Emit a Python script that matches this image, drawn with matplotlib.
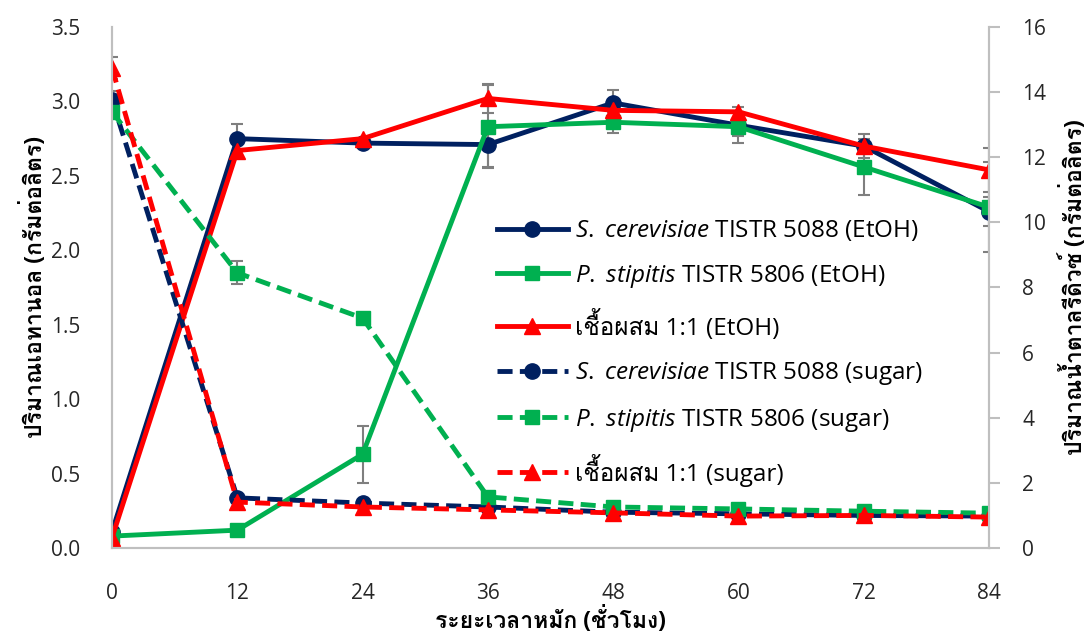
import numpy as np
import matplotlib
matplotlib.use("Agg")
import matplotlib.pyplot as plt
from matplotlib import font_manager, ft2font

# หา font ที่มีอักษรไทย
thai_fonts = []
for f in font_manager.fontManager.ttflist:
    try:
        if ft2font.FT2Font(f.fname).get_char_index(ord("ป")) != 0:
            if f.name not in thai_fonts:
                thai_fonts.append(f.name)
    except Exception:
        pass

plt.rcParams['font.family'] = ['Open Sans'] + thai_fonts + ['DejaVu Sans']
plt.rcParams['mathtext.fontset'] = 'custom'
plt.rcParams['mathtext.it'] = 'Open Sans:italic'
plt.rcParams['mathtext.rm'] = 'Open Sans'

# data
hours = [0, 12, 24, 36, 48, 60, 72, 84]

sc_etoh = [0.11, 2.75, 2.72, 2.71, 2.99, 2.84, 2.70, 2.26]
ps_etoh = [0.08, 0.12, 0.63, 2.83, 2.86, 2.83, 2.56, 2.29]
mix_etoh = [0.07, 2.67, 2.75, 3.02, 2.94, 2.93, 2.70, 2.54]
sc_etoh_err = [0.0, 0.10, 0.0, 0.15, 0.09, 0.12, 0.08, 0.10]
ps_etoh_err = [0.0, 0.0, 0.19, 0.28, 0.07, 0.06, 0.19, 0.30]
mix_etoh_err = [0.0, 0.0, 0.0, 0.10, 0.0, 0.0, 0.0, 0.15]

sc_sugar = [13.76, 1.54, 1.38, 1.26, 1.10, 1.05, 1.00, 0.98]
ps_sugar = [13.39, 8.45, 7.06, 1.57, 1.26, 1.20, 1.13, 1.07]
mix_sugar = [14.74, 1.41, 1.26, 1.17, 1.08, 0.98, 1.00, 0.95]
sc_sugar_err = [0.28, 0.0, 0.0, 0.0, 0.0, 0.0, 0.0, 0.0]
ps_sugar_err = [0.0, 0.35, 0.0, 0.0, 0.0, 0.0, 0.0, 0.0]
mix_sugar_err = [0.34, 0.0, 0.0, 0.0, 0.0, 0.0, 0.0, 0.0]

labels = [r'$\it{S.}$ $\it{cerevisiae}$ TISTR 5088 (EtOH)',
          r'$\it{P.}$ $\it{stipitis}$ TISTR 5806 (EtOH)',
          'เชื้อผสม 1:1 (EtOH)',
          r'$\it{S.}$ $\it{cerevisiae}$ TISTR 5088 (sugar)',
          r'$\it{P.}$ $\it{stipitis}$ TISTR 5806 (sugar)',
          'เชื้อผสม 1:1 (sugar)']

navy = '#002060'
green = '#00B050'
red = '#FF0000'
grey = '#7F7F7F'
axgrey = '#BFBFBF'

fig = plt.figure(figsize=(10.91, 6.35), dpi=100)
ax = fig.add_axes([0.1027, 0.137, 0.8038, 0.8205])
ax2 = ax.twinx()

lw = 3.5
eb = dict(ecolor=grey, elinewidth=1.5, capsize=4, capthick=1.5)
dash = (3.1, 1.5)

h = []
h.append(ax.errorbar(hours, sc_etoh, yerr=sc_etoh_err, color=navy, lw=lw, marker='o', ms=11, **eb)[0])
h.append(ax.errorbar(hours, ps_etoh, yerr=ps_etoh_err, color=green, lw=lw, marker='s', ms=10, **eb)[0])
h.append(ax.errorbar(hours, mix_etoh, yerr=mix_etoh_err, color=red, lw=lw, marker='^', ms=12, **eb)[0])

h.append(ax2.errorbar(hours, sc_sugar, yerr=sc_sugar_err, color=navy, lw=lw, marker='o', ms=11, **eb)[0])
h.append(ax2.errorbar(hours, ps_sugar, yerr=ps_sugar_err, color=green, lw=lw, marker='s', ms=10, **eb)[0])
h.append(ax2.errorbar(hours, mix_sugar, yerr=mix_sugar_err, color=red, lw=lw, marker='^', ms=12, **eb)[0])
for line in h[3:]:
    line.set_dashes(dash)

ax.set_xlim(0, 84)
ax.set_ylim(0, 3.5)
ax2.set_ylim(0, 16)
ax.set_xticks(hours)
ax.set_yticks(np.arange(0, 3.51, 0.5))
ax.set_yticklabels(['%.1f' % v for v in np.arange(0, 3.51, 0.5)])
ax2.set_yticks(range(0, 17, 2))

for a in (ax, ax2):
    a.spines['top'].set_visible(False)
    for s in a.spines.values():
        s.set_color(axgrey)
        s.set_linewidth(1.5)
ax.tick_params(axis='both', length=0, labelsize=15, colors='#262626')
ax.tick_params(axis='x', pad=25)
ax.tick_params(axis='y', pad=23)
ax2.tick_params(axis='y', length=8, width=1.5, color=axgrey, labelsize=15, labelcolor='#262626', pad=16)

ax.set_xlabel('ระยะเวลาหมัก (ชั่วโมง)', fontsize=16.5, fontweight='bold', labelpad=2)
ax.set_ylabel('ปริมาณเอทานอล (กรัมต่อลิตร)', fontsize=16.5, fontweight='bold', labelpad=2)
ax2.set_ylabel('ปริมาณน้ำตาลรีดิวซ์ (กรัมต่อลิตร)', fontsize=16.5, fontweight='bold', labelpad=10)

ax2.legend(h, labels, loc='upper left', bbox_to_anchor=(0.439, 0.633), frameon=False,
           fontsize=17.5, handlelength=2.9, labelspacing=0.81, handletextpad=0.3,
           borderpad=0, borderaxespad=0)

fig.savefig('out.png', dpi=100)
